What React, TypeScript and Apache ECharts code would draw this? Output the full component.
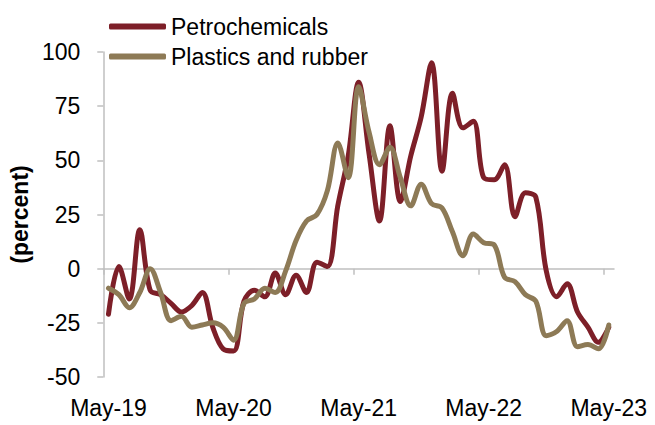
import React, { useEffect, useRef } from "react";
import * as echarts from "echarts";

// Monthly categories, May-19 .. May-23
const months: string[] = [
  "May-19", "Jun-19", "Jul-19", "Aug-19", "Sep-19", "Oct-19", "Nov-19", "Dec-19",
  "Jan-20", "Feb-20", "Mar-20", "Apr-20", "May-20", "Jun-20", "Jul-20", "Aug-20",
  "Sep-20", "Oct-20", "Nov-20", "Dec-20", "Jan-21", "Feb-21", "Mar-21", "Apr-21",
  "May-21", "Jun-21", "Jul-21", "Aug-21", "Sep-21", "Oct-21", "Nov-21", "Dec-21",
  "Jan-22", "Feb-22", "Mar-22", "Apr-22", "May-22", "Jun-22", "Jul-22", "Aug-22",
  "Sep-22", "Oct-22", "Nov-22", "Dec-22", "Jan-23", "Feb-23", "Mar-23", "Apr-23",
  "May-23",
];

// Year-over-year change, percent
const petrochemicals: number[] = [
  -21, 1, -14, 18, -10, -12, -16, -20, -17, -11, -27, -37, -38,
  -15, -10, -13, -2, -12, -3, -11, 3, 1, 29, 52, 86,
  53, 22, 66, 31, 52, 70, 95, 45, 81, 65, 68, 42,
  41, 48, 24, 35, 33, -1, -13, -7, -20, -27, -34, -27,
];

const plasticsAndRubber: number[] = [
  -9, -12, -18, -11, 0, -11, -24, -22, -27, -26, -25, -27, -33,
  -16, -14, -9, -11, -1, 13, 22, 25, 36, 58, 42, 84,
  63, 48, 56, 42, 29, 39, 30, 28, 17, 6, 16, 12,
  11, -4, -6, -12, -15, -31, -29, -24, -36, -35, -37, -26,
];

const seriesNames: string[] = ["Petrochemicals", "Plastics and rubber"];
const seriesColors: string[] = ["#7D1F28", "#8D7A56"];

// Year boundaries (month offsets) where the x-axis ticks sit
const yearTicks: number[] = [0, 12, 24, 36, 48];

const FONT = "'Liberation Sans', Arial, sans-serif";
const FONT_SIZE = 23;
const AXIS_GRAY = "#BFBFBF";

export default function App() {
  const ref = useRef<HTMLDivElement>(null);

  useEffect(() => {
    if (!ref.current) return;
    const chart = echarts.init(ref.current, undefined, { renderer: "svg" });

    const option: echarts.EChartsOption = {
      animation: false,
      backgroundColor: "#ffffff",
      textStyle: { fontFamily: FONT },
      grid: { left: 92, right: 41, top: 52, bottom: 48, containLabel: false },
      legend: {
        orient: "vertical",
        left: 104,
        top: 10,
        itemWidth: 57,
        itemHeight: 6,
        itemGap: 7,
        icon: "roundRect",
        textStyle: { fontFamily: FONT, fontSize: FONT_SIZE, color: "#000", lineHeight: 23 },
        data: seriesNames,
      },
      xAxis: [
        {
          // month categories; only the labels are drawn, along the bottom
          type: "category",
          data: months,
          boundaryGap: true,
          axisLine: { show: false, onZero: false },
          axisTick: { show: false },
          axisLabel: {
            interval: 11,
            margin: 19,
            fontFamily: FONT,
            fontSize: FONT_SIZE,
            color: "#000",
          },
          splitLine: { show: false },
        },
        {
          // axis line on zero with ticks at the year boundaries
          type: "value",
          min: 0,
          max: months.length,
          position: "bottom",
          axisLine: { show: true, onZero: true, lineStyle: { color: AXIS_GRAY, width: 1.5 } },
          axisTick: {
            show: true,
            customValues: yearTicks,
            length: 6,
            lineStyle: { color: AXIS_GRAY, width: 1.5 },
          },
          axisLabel: { show: false },
          splitLine: { show: false },
        },
      ],
      yAxis: {
        type: "value",
        min: -50,
        max: 100,
        interval: 25,
        name: "(percent)",
        nameLocation: "middle",
        nameGap: 58,
        nameTextStyle: { fontFamily: FONT, fontSize: FONT_SIZE, fontWeight: "bold", color: "#000" },
        axisLine: { show: true, lineStyle: { color: AXIS_GRAY, width: 1.5 } },
        axisTick: { show: true, length: 6, lineStyle: { color: AXIS_GRAY, width: 1.5 } },
        axisLabel: { margin: 23, fontFamily: FONT, fontSize: FONT_SIZE, color: "#000" },
        splitLine: { show: false },
      },
      series: [
        {
          name: seriesNames[0],
          type: "line",
          xAxisIndex: 0,
          data: petrochemicals,
          smooth: 0.35,
          showSymbol: false,
          symbol: "none",
          color: seriesColors[0],
          lineStyle: { color: seriesColors[0], width: 5, cap: "round", join: "round" },
          z: 2,
        },
        {
          name: seriesNames[1],
          type: "line",
          xAxisIndex: 0,
          data: plasticsAndRubber,
          smooth: 0.35,
          showSymbol: false,
          symbol: "none",
          color: seriesColors[1],
          lineStyle: { color: seriesColors[1], width: 5, cap: "round", join: "round" },
          z: 3,
        },
      ],
    };

    chart.setOption(option);
    return () => chart.dispose();
  }, []);

  return (
    <div
      ref={ref}
      style={{ position: "fixed", left: 0, top: 0, width: 655, height: 425, background: "#fff" }}
    />
  );
}
